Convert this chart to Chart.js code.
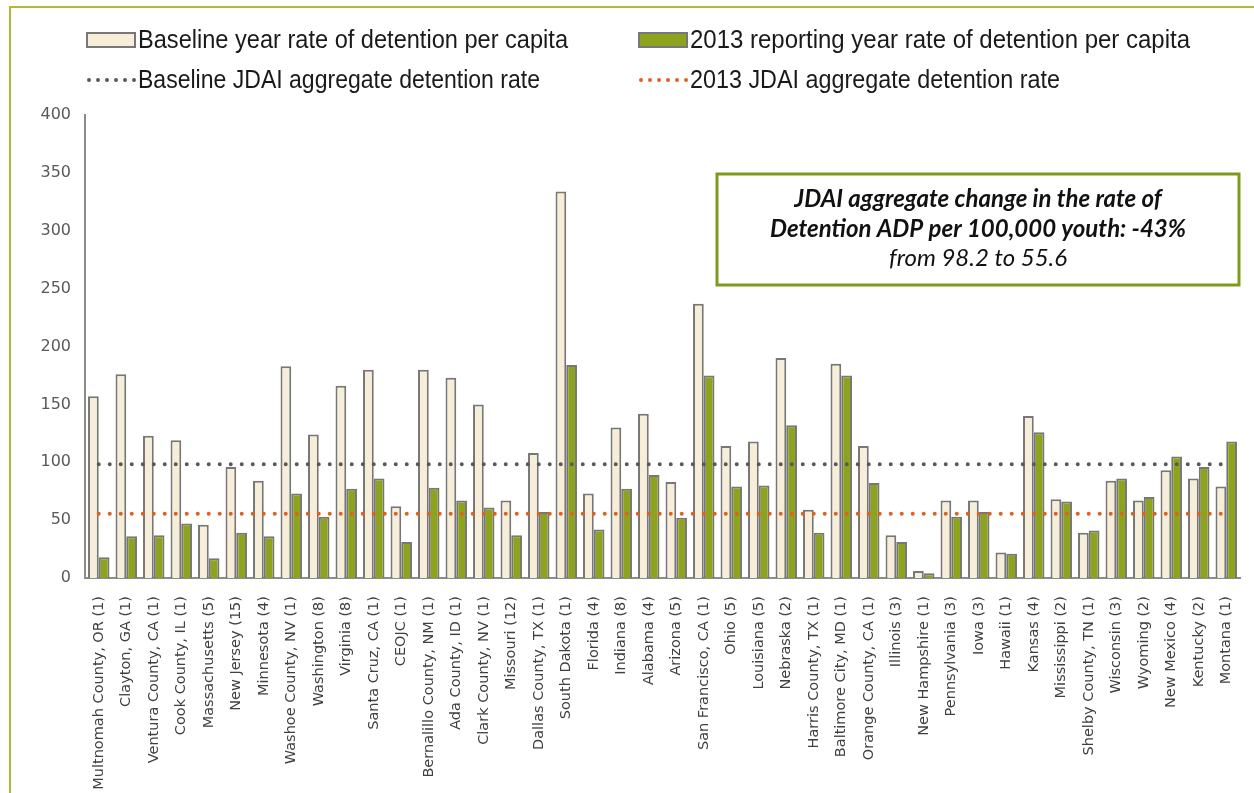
<!DOCTYPE html>
<html>
<head>
<meta charset="utf-8">
<script src="https://cdn.jsdelivr.net/npm/chart.js@4.4.1/dist/chart.umd.min.js"></script>
<style>
  html, body { margin: 0; padding: 0; background: #ffffff; }
  #wrap { position: relative; width: 1254px; height: 793px; overflow: hidden; }
  #frame { position: absolute; left: 9px; top: 6px; width: 1300px; height: 850px;
           border-left: 2px solid #AEB83C; border-top: 2px solid #AEB83C; pointer-events: none; }
  #c { position: absolute; left: 0; top: 0; }
</style>
</head>
<body>
<div id="wrap">
  <canvas id="c" width="1254" height="793"></canvas>
  <div id="frame"></div>
</div>
<script>
// JDAI sites (number of participating jurisdictions in parentheses)
const sites = [
  "Multnomah County, OR (1)", "Clayton, GA (1)", "Ventura County, CA (1)", "Cook County, IL (1)",
  "Massachusetts (5)", "New Jersey (15)", "Minnesota (4)", "Washoe County, NV (1)", "Washington (8)",
  "Virginia (8)", "Santa Cruz, CA (1)", "CEOJC (1)", "Bernalillo County, NM (1)", "Ada County, ID (1)",
  "Clark County, NV (1)", "Missouri (12)", "Dallas County, TX (1)", "South Dakota (1)", "Florida (4)",
  "Indiana (8)", "Alabama (4)", "Arizona (5)", "San Francisco, CA (1)", "Ohio (5)", "Louisiana (5)",
  "Nebraska (2)", "Harris County, TX (1)", "Baltimore City, MD (1)", "Orange County, CA (1)",
  "Illinois (3)", "New Hampshire (1)", "Pennsylvania (3)", "Iowa (3)", "Hawaii (1)", "Kansas (4)",
  "Mississippi (2)", "Shelby County, TN (1)", "Wisconsin (3)", "Wyoming (2)", "New Mexico (4)",
  "Kentucky (2)", "Montana (1)"
];

// Detention ADP per 100,000 youth
const baselineRates = [
  157, 176, 123, 119, 46, 96, 84, 183, 124, 166, 180, 62, 180, 173,
  150, 67, 108, 334, 73, 130, 142, 83, 237, 114, 118, 190, 59, 185, 114,
  37, 6, 67, 67, 22, 140, 68, 39, 84, 67, 93, 86, 79
];
const reportRates2013 = [
  18, 36, 37, 47, 17, 39, 36, 73, 53, 77, 86, 31, 78, 67,
  61, 37, 57, 184, 42, 77, 89, 52, 175, 79, 80, 132, 39, 175, 82,
  31, 4, 53, 57, 21, 126, 66, 41, 86, 70, 105, 96, 118
];

// JDAI aggregate detention rates
const baselineAggregate = 98.2;
const aggregate2013 = 55.6;
const aggregateChange = "-43%";

const yTicks = [0, 50, 100, 150, 200, 250, 300, 350, 400];

const CREAM = "#F6EED8";
const OLIVE = "#8DA31E";
const BAR_EDGE = "#777777";
const GREY_DOTS = "#595959";
const ORANGE_DOTS = "#E2601E";

// Two-column legend drawn on the canvas
const legendPlugin = {
  id: "twoColLegend",
  afterDraw(chart) {
    const ctx = chart.ctx;
    const ds = chart.data.datasets;
    const cols = [85, 637];
    const rows = [40, 80];
    const widths = [430, 500, 402, 370];
    ctx.save();
    ctx.textBaseline = "middle";
    ctx.textAlign = "left";
    ctx.font = "26px 'Liberation Sans', sans-serif";
    ds.forEach((d, i) => {
      const x = cols[i % 2];
      const y = rows[Math.floor(i / 2)];
      if (d.type === "line") {
        ctx.strokeStyle = d.borderColor;
        ctx.lineWidth = 4;
        ctx.lineCap = "round";
        ctx.setLineDash([0, 9]);
        ctx.beginPath();
        ctx.moveTo(x + 4, y);
        ctx.lineTo(x + 50, y);
        ctx.stroke();
        ctx.setLineDash([]);
      } else {
        ctx.fillStyle = d.backgroundColor;
        ctx.fillRect(x + 2, y - 7, 48, 14);
        ctx.strokeStyle = BAR_EDGE;
        ctx.lineWidth = 2;
        ctx.strokeRect(x + 2, y - 7, 48, 14);
      }
      ctx.fillStyle = "#1a1a1a";
      ctx.fillText(d.label, x + 53, y + 1, widths[i]);
    });
    ctx.restore();
  }
};

// Summary box for the aggregate change
const noteBox = {
  id: "noteBox",
  afterDraw(chart) {
    const ctx = chart.ctx;
    const x0 = 717, y0 = 174, x1 = 1239, y1 = 285;
    const cx = (x0 + x1) / 2;
    ctx.save();
    ctx.fillStyle = "#ffffff";
    ctx.fillRect(x0, y0, x1 - x0, y1 - y0);
    ctx.strokeStyle = "#7E9A1E";
    ctx.lineWidth = 3;
    ctx.strokeRect(x0, y0, x1 - x0, y1 - y0);
    ctx.fillStyle = "#111111";
    ctx.textAlign = "center";
    ctx.textBaseline = "middle";
    ctx.font = "italic bold 24px Lato, 'Liberation Sans', sans-serif";
    ctx.fillText("JDAI aggregate change in the rate of", cx, 199, 390);
    ctx.fillText("Detention ADP per 100,000 youth: " + aggregateChange, cx, 229, 424);
    ctx.font = "italic 24px Lato, 'Liberation Sans', sans-serif";
    ctx.fillText("from " + baselineAggregate + " to " + aggregate2013, cx, 258, 184);
    ctx.restore();
  }
};

new Chart(document.getElementById("c"), {
  data: {
    labels: sites,
    datasets: [
      {
        type: "bar",
        label: "Baseline year rate of detention per capita",
        data: baselineRates,
        backgroundColor: CREAM,
        borderColor: BAR_EDGE,
        borderWidth: 2,
        categoryPercentage: 0.78,
        barPercentage: 1.0,
        order: 2
      },
      {
        type: "bar",
        label: "2013 reporting year rate of detention per capita",
        data: reportRates2013,
        backgroundColor: OLIVE,
        borderColor: BAR_EDGE,
        borderWidth: 2,
        categoryPercentage: 0.78,
        barPercentage: 1.0,
        order: 2
      },
      {
        type: "line",
        label: "Baseline JDAI aggregate detention rate",
        data: sites.map(() => baselineAggregate),
        borderColor: GREY_DOTS,
        borderWidth: 4,
        borderDash: [0, 11],
        borderCapStyle: "round",
        pointRadius: 0,
        fill: false,
        order: 1
      },
      {
        type: "line",
        label: "2013 JDAI aggregate detention rate",
        data: sites.map(() => aggregate2013),
        borderColor: ORANGE_DOTS,
        borderWidth: 4,
        borderDash: [0, 11],
        borderCapStyle: "round",
        pointRadius: 0,
        fill: false,
        order: 1
      }
    ]
  },
  options: {
    responsive: false,
    animation: false,
    devicePixelRatio: 1,
    layout: { padding: { top: 115, right: 14, left: 0, bottom: 0 } },
    plugins: { legend: { display: false }, tooltip: { enabled: false } },
    scales: {
      x: {
        offset: true,
        grid: { display: false },
        border: { display: true, color: "#8C8C8C", width: 2 },
        ticks: {
          autoSkip: false,
          minRotation: 90,
          maxRotation: 90,
          padding: 10,
          color: "#404040",
          font: { family: "'DejaVu Sans', sans-serif", size: 14.5 }
        },
        afterFit(scale) { scale.height = 215; }
      },
      y: {
        min: 0,
        max: 400,
        afterBuildTicks(scale) { scale.ticks = yTicks.map(v => ({ value: v })); },
        grid: { display: false },
        border: { display: true, color: "#8C8C8C", width: 2 },
        ticks: {
          padding: 6,
          color: "#595959",
          font: { family: "'DejaVu Sans', sans-serif", size: 16 }
        },
        afterFit(scale) { scale.width = 85; }
      }
    }
  },
  plugins: [legendPlugin, noteBox]
});
</script>
</body>
</html>
